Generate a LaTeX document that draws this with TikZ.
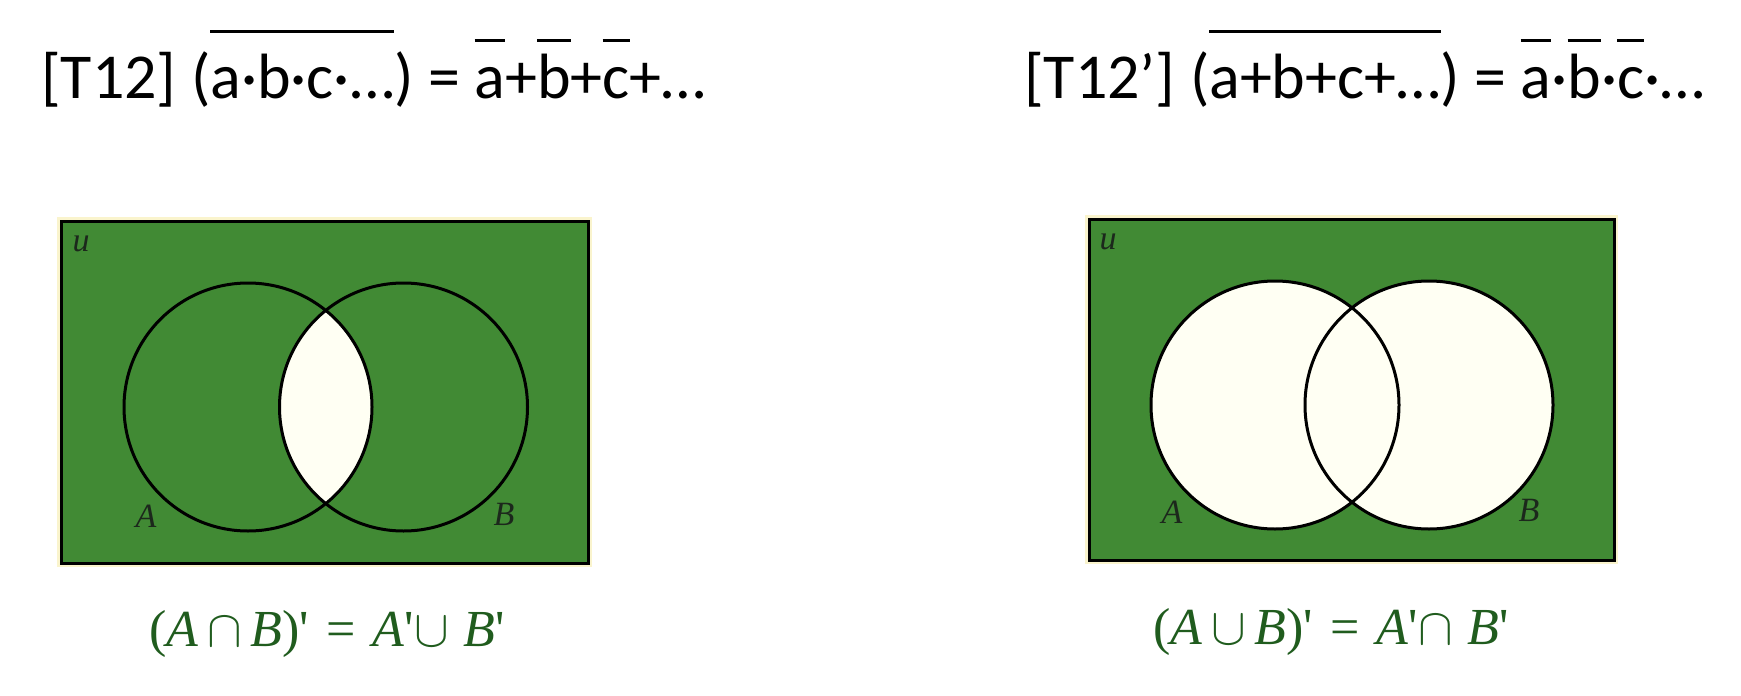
\RequirePackage{fix-cm}
\documentclass[tikz,border=0pt]{standalone}
\usepackage{fontspec}
\setmainfont{Carlito}
\newfontfamily\capfont{Liberation Serif}
\definecolor{vgreen}{RGB}{65,138,52}
\definecolor{ivory}{RGB}{255,255,243}
\definecolor{capgreen}{RGB}{32,92,30}
\definecolor{halo}{RGB}{250,244,205}
\definecolor{lblcol}{RGB}{28,40,28}
\newcommand\ovl[2]{\setbox0=\hbox{#2}\rlap{\raisebox{#1}{\rule{\wd0}{3pt}}}\box0}
\newcommand\eqgap{\hspace{0.33em}}
\tikzset{
  hdr/.style={anchor=base west, inner sep=0pt, font=\fontsize{64}{70}\selectfont},
  setlbl/.style={inner sep=0pt, text=lblcol, font=\capfont\itshape\fontsize{34}{38}\selectfont},
  caption/.style={inner sep=0pt, text=capgreen, font=\capfont\fontsize{52}{58}\selectfont},
  universe/.style={fill=vgreen, draw=black, line width=3pt},
  haloline/.style={draw=halo, line width=3pt},
  setline/.style={draw=black, line width=3pt},
}
\begin{document}
\begin{tikzpicture}[x=1pt,y=-1pt]
\useasboundingbox (0,0) rectangle (1741,696);
% headers
\node[hdr] (h1) at (41,98) {[T12] (\ovl{65pt}{a·b·c·…}) = \ovl{56pt}{a}+\ovl{56pt}{b}+\ovl{56pt}{c}+…};
\node[hdr] (h2) at (1024,98) {[T12’] (\ovl{65pt}{a+b+c+…}) = \ovl{56pt}{a}·\ovl{56pt}{b}·\ovl{56pt}{c}·…};
% left diagram
\draw[haloline] (58.5,218.5) rectangle (590.5,565.5);
\path[universe] (61,221) rectangle (588,563);
\begin{scope}
  \clip (248,407) circle (124);
  \fill[ivory] (403.5,407) circle (124);
\end{scope}
\draw[setline] (248,407) circle (124);
\draw[setline] (403.5,407) circle (124);
\node[setlbl] (u1) at (81,244) {u};
\node[setlbl] (a1) at (146,516) {A};
\node[setlbl] (b1) at (504,514) {B};
\node[caption] (c1) at (327,634) {(\textit{A}$\,\cap\,$\textit{B})'\eqgap=\eqgap\textit{A}'$\cup\;$\textit{B}'};
% right diagram
\draw[haloline] (1086.5,216.5) rectangle (1616.5,562.5);
\path[universe] (1089,219) rectangle (1614,560);
\fill[ivory] (1275,405) circle (124);
\fill[ivory] (1429,405) circle (124);
\draw[setline] (1275,405) circle (124);
\draw[setline] (1429,405) circle (124);
\node[setlbl] (u2) at (1108,242) {u};
\node[setlbl] (a2) at (1172,512) {A};
\node[setlbl] (b2) at (1529,510) {B};
\node[caption] (c2) at (1331,632) {(\textit{A}$\,\cup\,$\textit{B})'\eqgap=\eqgap\textit{A}'$\cap\;$\textit{B}'};
\end{tikzpicture}
\end{document}
